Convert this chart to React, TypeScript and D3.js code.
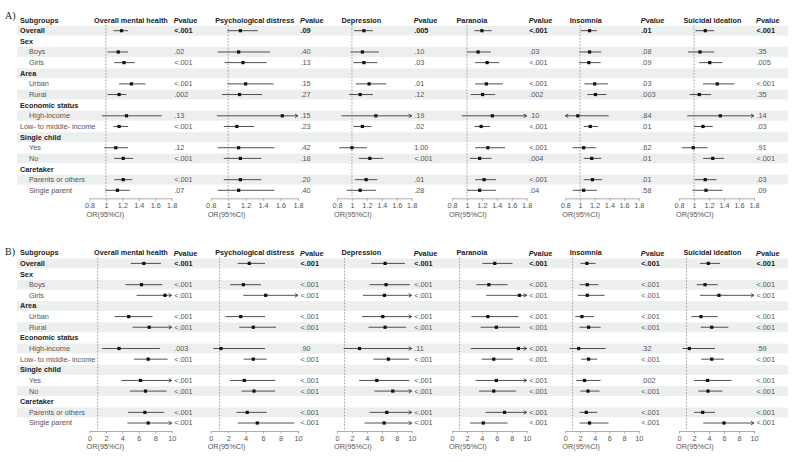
import { useEffect, useRef } from 'react'
import * as d3 from 'd3'

type Est = [number, number, number] // OR, lower CI, upper CI

const rowLabels = [
  'Overall', 'Sex', 'Boys', 'Girls', 'Area', 'Urban', 'Rural',
  'Economic status', 'High-income', 'Low- to middle- income',
  'Single child', 'Yes', 'No', 'Caretaker', 'Parents or others', 'Single parent',
]
const groupRows = ['Overall', 'Sex', 'Area', 'Economic status', 'Single child', 'Caretaker']
const flushRows = ['Low- to middle- income']
const outcomeNames = [
  'Overall mental health', 'Psychological distress', 'Depression',
  'Paranoia', 'Insomnia', 'Suicidal ideation',
]

const ticksA = [0.8, 1, 1.2, 1.4, 1.6, 1.8]
const ticksB = [0, 2, 4, 6, 8, 10]

// A) rows: Overall, Boys, Girls, Urban, Rural, High, Low-mid, Yes, No, Parents, Single parent
const aMental: Est[] = [[1.19, 1.09, 1.27], [1.15, 1.02, 1.27], [1.22, 1.10, 1.35], [1.31, 1.16, 1.48], [1.16, 1.02, 1.25], [1.25, 0.95, 1.68], [1.16, 1.09, 1.27], [1.12, 0.98, 1.27], [1.21, 1.10, 1.33], [1.21, 1.10, 1.32], [1.14, 0.99, 1.29]]
const aPsych: Est[] = [[1.14, 0.99, 1.34], [1.12, 0.88, 1.48], [1.17, 0.96, 1.44], [1.20, 0.99, 1.52], [1.13, 0.93, 1.39], [1.62, 0.87, 2.2], [1.10, 0.95, 1.30], [1.12, 0.88, 1.53], [1.14, 0.95, 1.38], [1.14, 0.95, 1.38], [1.12, 0.88, 1.53]]
const aDepr: Est[] = [[1.16, 1.03, 1.28], [1.14, 0.98, 1.36], [1.16, 1.02, 1.34], [1.23, 1.05, 1.46], [1.11, 0.96, 1.28], [1.32, 0.86, 2.1], [1.14, 1.02, 1.26], [1.00, 0.83, 1.20], [1.24, 1.09, 1.42], [1.19, 1.04, 1.34], [1.11, 0.93, 1.32]]
const aParan: Est[] = [[1.20, 1.10, 1.33], [1.15, 1.00, 1.32], [1.27, 1.11, 1.43], [1.26, 1.11, 1.48], [1.21, 1.05, 1.38], [1.34, 0.93, 2.0], [1.19, 1.10, 1.31], [1.28, 1.11, 1.51], [1.17, 1.04, 1.33], [1.23, 1.11, 1.39], [1.17, 1.00, 1.39]]
const aInsom: Est[] = [[1.13, 1.01, 1.23], [1.13, 0.99, 1.29], [1.12, 0.99, 1.28], [1.20, 1.06, 1.38], [1.21, 1.10, 1.36], [0.97, 0.75, 1.39], [1.14, 1.05, 1.25], [1.05, 0.90, 1.22], [1.16, 1.05, 1.29], [1.17, 1.05, 1.30], [1.05, 0.90, 1.23]]
const aSuic: Est[] = [[1.15, 1.02, 1.27], [1.08, 0.92, 1.27], [1.21, 1.07, 1.38], [1.31, 1.12, 1.54], [1.07, 0.94, 1.23], [1.35, 0.91, 2.0], [1.12, 1.00, 1.25], [0.99, 0.84, 1.18], [1.25, 1.12, 1.40], [1.15, 1.01, 1.30], [1.16, 0.98, 1.38]]

const pAMental = ['<.001', '.02', '<.001', '<.001', '.002', '.13', '<.001', '.12', '<.001', '<.001', '.07']
const pAPsych = ['.09', '.40', '.13', '.15', '.27', '.15', '.23', '.42', '.18', '.20', '.40']
const pADepr = ['.005', '.10', '.03', '.01', '.12', '.19', '.02', '1.00', '<.001', '.01', '.28']
const pAParan = ['<.001', '.03', '<.001', '<.001', '.002', '.10', '<.001', '<.001', '.004', '<.001', '.04']
const pAInsom = ['.01', '.08', '.09', '.03', '.003', '.84', '.01', '.62', '.01', '.01', '.58']
const pASuic = ['<.001', '.35', '.005', '<.001', '.35', '.14', '.03', '.91', '<.001', '.03', '.09']

// B) same row order
const bMental: Est[] = [[6.61, 5.02, 8.69], [6.33, 4.37, 8.85], [9.18, 5.72, 11.5], [4.77, 3.06, 7.67], [7.26, 5.24, 11], [3.59, 1.55, 8.57], [7.14, 5.39, 9.50], [6.20, 3.88, 11], [6.81, 4.90, 9.38], [6.73, 4.69, 9.06], [7.14, 4.61, 11]]
const bPsych: Est[] = [[4.42, 3.09, 6.22], [3.74, 2.21, 5.76], [6.30, 3.74, 11], [3.44, 1.69, 6.22], [4.88, 3.28, 7.48], [1.18, 0.30, 6.22], [4.88, 3.78, 6.41], [3.85, 2.21, 7.37], [4.96, 3.53, 7.37], [4.19, 2.96, 6.41], [5.34, 3.09, 9.58]]
const bDepr: Est[] = [[6.44, 4.57, 9.10], [6.57, 4.35, 9.78], [6.35, 3.47, 11], [6.13, 3.34, 11], [6.44, 4.21, 9.24], [3.01, 0.88, 12], [6.88, 4.88, 9.64], [5.33, 2.97, 9.68], [7.47, 5.02, 11], [6.67, 4.35, 11], [6.31, 3.68, 11]]
const bParan: Est[] = [[5.72, 4.06, 8.10], [4.93, 3.26, 7.44], [9.02, 4.58, 11], [4.80, 2.60, 8.89], [5.94, 3.83, 9.12], [8.89, 2.50, 12], [5.59, 3.96, 8.15], [5.94, 3.17, 11], [5.59, 3.61, 8.59], [7.04, 4.50, 11], [4.19, 2.42, 7.44]]
const bInsom: Est[] = [[2.94, 2.08, 4.12], [2.99, 1.94, 4.52], [2.99, 1.71, 5.34], [2.26, 1.36, 3.89], [3.17, 1.94, 4.80], [1.81, 0.58, 5.48], [3.17, 2.17, 4.35], [2.62, 1.49, 4.80], [3.08, 2.04, 4.66], [2.85, 1.94, 4.35], [3.30, 1.94, 5.88]]
const bSuic: Est[] = [[3.91, 2.80, 5.47], [3.47, 2.36, 5.16], [5.33, 2.80, 11], [2.93, 1.64, 5.16], [4.36, 2.89, 6.58], [1.38, 0.49, 4.80], [4.36, 2.97, 6.00], [3.82, 2.00, 7.02], [3.87, 2.58, 5.78], [3.16, 2.00, 4.80], [6.00, 3.24, 11]]

const pBMental = ['<.001', '<.001', '<.001', '<.001', '<.001', '.003', '<.001', '<.001', '<.001', '<.001', '<.001']
const pBPsych = ['<.001', '<.001', '<.001', '<.001', '<.001', '.90', '<.001', '<.001', '<.001', '<.001', '<.001']
const pBDepr = ['<.001', '<.001', '<.001', '<.001', '<.001', '.11', '<.001', '<.001', '<.001', '<.001', '<.001']
const pBParan = ['<.001', '<.001', '<.001', '<.001', '<.001', '<.001', '<.001', '<.001', '<.001', '<.001', '<.001']
const pBInsom = ['<.001', '<.001', '<.001', '<.001', '<.001', '.32', '<.001', '.002', '<.001', '<.001', '<.001']
const pBSuic = ['<.001', '<.001', '<.001', '<.001', '<.001', '.59', '<.001', '<.001', '<.001', '<.001', '<.001']

const FONT = '"Liberation Sans", Arial, sans-serif'
const CI_COLOR = '#3c3c3c'

export default function App() {
  const svgRef = useRef<SVGSVGElement>(null)

  useEffect(() => {
    if (!svgRef.current) return
    const svg = d3.select(svgRef.current)
    svg.selectAll('*').remove()

    const width = 800
    const height = 462
    svg.append('rect').attr('width', width).attr('height', height).attr('fill', '#fff')

    // plotting columns: x range of each outcome's axis
    const colRanges: [number, number][] = [
      [89.5, 171.7], [210.7, 298], [337, 411.7], [452, 526.7], [565.3, 638.8], [679, 754],
    ]
    const rowStep = 10.64
    const dataRows = rowLabels.map((d, i) => (groupRows.includes(d) && d !== 'Overall' ? -1 : i)).filter(i => i >= 0)

    const panels = [
      { tag: 'A)', top: 0, tagY: 15, domain: [0.8, 1.8], ticks: ticksA, est: [aMental, aPsych, aDepr, aParan, aInsom, aSuic], p: [pAMental, pAPsych, pADepr, pAParan, pAInsom, pASuic] },
      { tag: 'B)', top: 232.7, tagY: 18.8, domain: [0, 10], ticks: ticksB, est: [bMental, bPsych, bDepr, bParan, bInsom, bSuic], p: [pBMental, pBPsych, pBDepr, pBParan, pBInsom, pBSuic] },
    ]

    panels.forEach(panel => {
      const g = svg.append('g').attr('transform', `translate(0,${panel.top})`)
      const y = d3.scaleLinear().domain([0, rowLabels.length - 1]).range([30.7, 30.7 + rowStep * (rowLabels.length - 1)])
      const headerY = 20
      const axisY = 198.3

      // striped rows
      g.selectAll('.stripe')
        .data(rowLabels.map((_, i) => i).filter(i => i % 2 === 0))
        .enter().append('rect')
        .attr('x', 17)
        .attr('y', i => y(i) - 4.9)
        .attr('width', 771)
        .attr('height', 9.8)
        .attr('fill', '#edefee')

      // panel tag
      g.append('text')
        .attr('x', 5).attr('y', panel.tagY)
        .attr('dominant-baseline', 'central')
        .attr('font-family', '"Liberation Serif", "Times New Roman", serif')
        .attr('font-size', 10)
        .attr('fill', '#222')
        .text(panel.tag)

      // subgroup column
      g.append('text')
        .attr('x', 20).attr('y', headerY)
        .attr('dominant-baseline', 'central')
        .attr('font-family', FONT).attr('font-size', 7.3).attr('font-weight', 'bold')
        .attr('fill', '#222')
        .text('Subgroups')

      g.selectAll('.row-label')
        .data(rowLabels)
        .enter().append('text')
        .attr('x', d => (groupRows.includes(d) || flushRows.includes(d) ? 20 : 29))
        .attr('y', (_, i) => y(i))
        .attr('dominant-baseline', 'central')
        .attr('font-family', FONT).attr('font-size', 7.3)
        .attr('font-weight', d => (groupRows.includes(d) ? 'bold' : 'normal'))
        .attr('fill', d => (groupRows.includes(d) ? '#222' : '#555'))
        .text(d => d)

      colRanges.forEach(([x0, x1], k) => {
        const x = d3.scaleLinear().domain(panel.domain).range([x0, x1])
        const [dMin, dMax] = panel.domain

        // outcome title + P value header
        g.append('text')
          .attr('x', x0 + 4.5).attr('y', headerY)
          .attr('dominant-baseline', 'central')
          .attr('font-family', FONT).attr('font-size', 7.3).attr('font-weight', 'bold')
          .attr('fill', '#222')
          .text(outcomeNames[k])

        const ph = g.append('text')
          .attr('x', x1 + 2).attr('y', headerY)
          .attr('dominant-baseline', 'central')
          .attr('font-family', FONT).attr('font-size', 7.3).attr('font-weight', 'bold')
          .attr('fill', '#222')
        ph.append('tspan').attr('font-style', 'italic').text('P')
        ph.append('tspan').text('value')

        // reference line at OR = 1
        g.append('line')
          .attr('x1', x(1)).attr('x2', x(1))
          .attr('y1', y(0) - 5.5).attr('y2', axisY)
          .attr('stroke', '#8a8a8a')
          .attr('stroke-width', 0.8)
          .attr('stroke-dasharray', '1.6,1.6')

        // axis
        const axis = d3.axisBottom(x)
          .tickValues(panel.ticks)
          .tickSize(2.5)
          .tickSizeOuter(0)
          .tickPadding(2)
          .tickFormat(d => d3.format('~g')(d as number))
        const ag = g.append('g').attr('transform', `translate(0,${axisY})`).call(axis)
        ag.select('.domain').attr('stroke', '#999').attr('stroke-width', 0.8)
        ag.selectAll('.tick line').attr('stroke', '#999').attr('stroke-width', 0.8)
        ag.selectAll('.tick text')
          .attr('font-family', FONT).attr('font-size', 7.3).attr('fill', '#555')

        g.append('text')
          .attr('x', x0 - 3).attr('y', 214.3)
          .attr('dominant-baseline', 'central')
          .attr('font-family', FONT).attr('font-size', 7.3)
          .attr('fill', '#555')
          .text('OR(95%CI)')

        // estimates
        const est = panel.est[k]
        const pv = panel.p[k]
        est.forEach(([or, lo, hi], j) => {
          const cy = y(dataRows[j])
          const left = x(Math.max(lo, dMin))
          const right = x(Math.min(hi, dMax))
          g.append('line')
            .attr('x1', left).attr('x2', right)
            .attr('y1', cy).attr('y2', cy)
            .attr('stroke', CI_COLOR).attr('stroke-width', 0.9)
          if (hi > dMax) {
            g.append('path')
              .attr('d', `M${right - 3},${cy - 1.8}L${right},${cy}L${right - 3},${cy + 1.8}`)
              .attr('fill', 'none').attr('stroke', CI_COLOR).attr('stroke-width', 0.9)
          }
          if (lo < dMin) {
            g.append('path')
              .attr('d', `M${left + 3},${cy - 1.8}L${left},${cy}L${left + 3},${cy + 1.8}`)
              .attr('fill', 'none').attr('stroke', CI_COLOR).attr('stroke-width', 0.9)
          }
          g.append('rect')
            .attr('x', x(or) - 1.6).attr('y', cy - 1.6)
            .attr('width', 3.2).attr('height', 3.2)
            .attr('fill', '#111')

          g.append('text')
            .attr('x', x1 + 2.5).attr('y', cy)
            .attr('dominant-baseline', 'central')
            .attr('font-family', FONT).attr('font-size', 7.3)
            .attr('font-weight', j === 0 ? 'bold' : 'normal')
            .attr('fill', j === 0 ? '#222' : '#555')
            .text(pv[j])
        })
      })
    })
  }, [])

  return (
    <div style={{ position: 'absolute', left: 0, top: 0 }}>
      <svg ref={svgRef} width={800} height={462} style={{ display: 'block' }} />
    </div>
  )
}
